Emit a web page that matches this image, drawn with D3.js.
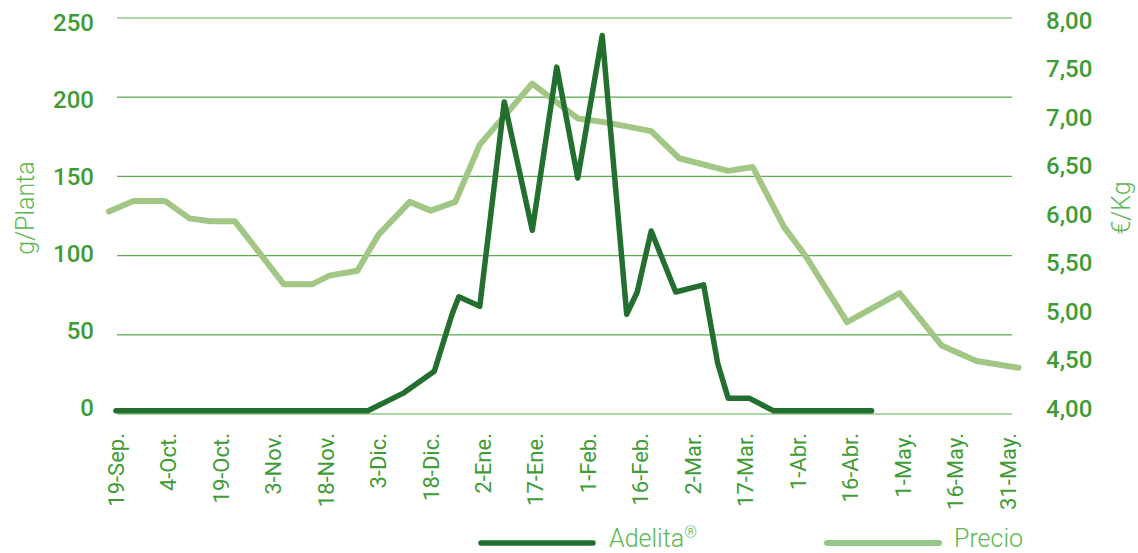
<!DOCTYPE html>
<html><head><meta charset="utf-8">
<script src="https://cdn.jsdelivr.net/npm/d3@7/dist/d3.min.js"></script>
<style>
body{margin:0;background:#fff}
svg{display:block}
text{font-family:Roboto,"Noto Sans",sans-serif}
</style>
</head><body>
<svg id="chart" width="1138" height="553"></svg>
<script>
// ---- data ----
const tickDates = ["2019-09-19","2019-10-04","2019-10-19","2019-11-03","2019-11-18","2019-12-03","2019-12-18","2020-01-02","2020-01-17","2020-02-01","2020-02-16","2020-03-02","2020-03-17","2020-04-01","2020-04-16","2020-05-01","2020-05-16","2020-05-31"];
const tickLabels = ["19-Sep.","4-Oct.","19-Oct.","3-Nov.","18-Nov.","3-Dic.","18-Dic.","2-Ene.","17-Ene.","1-Feb.","16-Feb.","2-Mar.","17-Mar.","1-Abr.","16-Abr.","1-May.","16-May.","31-May."];
const leftTicks = [0,50,100,150,200,250];
const rightTicks = [4,4.5,5,5.5,6,6.5,7,7.5,8];

const adelitaDates = ["2019-09-19","2019-11-30","2019-12-10","2019-12-19","2019-12-24","2019-12-26","2020-01-01","2020-01-08","2020-01-16","2020-01-23","2020-01-29","2020-02-05","2020-02-12","2020-02-15","2020-02-19","2020-02-26","2020-03-05","2020-03-09","2020-03-12","2020-03-18","2020-03-25","2020-04-22"];
const adelitaValues = [2,2,13,27,62.5,74,68,197,116,219,149,239,63,77,115.5,77,81.5,32,10,10,2,2];

const precioDates = ["2019-09-17","2019-09-24","2019-10-03","2019-10-10","2019-10-16","2019-10-23","2019-11-06","2019-11-14","2019-11-19","2019-11-27","2019-12-03","2019-12-12","2019-12-18","2019-12-25","2020-01-01","2020-01-16","2020-01-29","2020-02-06","2020-02-19","2020-02-27","2020-03-12","2020-03-19","2020-03-28","2020-04-03","2020-04-15","2020-04-30","2020-05-12","2020-05-22","2020-06-03"];
const precioValues = [6.03,6.14,6.14,5.96,5.93,5.93,5.28,5.28,5.37,5.42,5.79,6.13,6.04,6.13,6.72,7.35,6.99,6.95,6.86,6.58,6.45,6.49,5.87,5.58,4.89,5.19,4.65,4.49,4.42];

const seriesNames = ["Adelita","Precio"];

// ---- styles ----
const C = {
  dark:"#236f30", light:"#a2c684", lightLegend:"#92c787",
  grid:"#5aad4c", tick:"#3f9c35", title:"#5cb652"
};

const parse = d3.timeParse("%Y-%m-%d");
const svg = d3.select("#chart");

const plotLeft = 117, plotRight = 1012;
const x = d3.scaleTime().domain([parse("2019-09-19"), parse("2020-05-31")]).range([116,1008]);
const yL = d3.scaleLinear().domain([0,250]).range([414,18]);
const yLText = yL.copy().range([408,22.5]);
const yR = d3.scaleLinear().domain([4,8]).range([408.5,20.5]);

// gridlines
svg.append("g").selectAll("line").data(leftTicks).join("line")
  .attr("x1",plotLeft).attr("x2",plotRight)
  .attr("y1",d=>yL(d)).attr("y2",d=>yL(d))
  .attr("stroke",C.grid).attr("stroke-width",1.2);

// left tick labels
svg.append("g").selectAll("text").data(leftTicks).join("text")
  .attr("x",94).attr("y",d=>yLText(d)).attr("dy","0.35em")
  .attr("text-anchor","end").attr("fill",C.tick)
  .attr("font-size",24).attr("font-weight",500)
  .text(d=>d);

// right tick labels
const fmtR = d=>d3.format(".2f")(d).replace(".",",");
svg.append("g").selectAll("text").data(rightTicks).join("text")
  .attr("x",1046).attr("y",d=>yR(d)).attr("dy","0.35em")
  .attr("text-anchor","start").attr("fill",C.tick)
  .attr("font-size",24).attr("font-weight",500)
  .text(fmtR);

// x tick labels
svg.append("g").selectAll("text").data(tickDates).join("text")
  .attr("transform",d=>`translate(${x(parse(d))},433) rotate(-90)`)
  .attr("dy","0.35em").attr("text-anchor","end")
  .attr("fill",C.tick).attr("font-size",22).attr("font-weight",400)
  .text((d,i)=>tickLabels[i]);

// axis titles
svg.append("text").attr("transform","translate(25,208) rotate(-90)")
  .attr("dy","0.35em").attr("text-anchor","middle")
  .attr("fill",C.title).attr("font-size",25).attr("font-weight",300)
  .text("g/Planta");
svg.append("text").attr("transform","translate(1121,208) rotate(-90)")
  .attr("dy","0.35em").attr("text-anchor","middle")
  .attr("fill",C.title).attr("font-size",25).attr("font-weight",300)
  .text("€/Kg");

// lines
const precio = precioDates.map((d,i)=>({d:parse(d),v:precioValues[i]}));
const adelita = adelitaDates.map((d,i)=>({d:parse(d),v:adelitaValues[i]}));

svg.append("path").datum(precio)
  .attr("d",d3.line().x(p=>x(p.d)).y(p=>yR(p.v)))
  .attr("fill","none").attr("stroke",C.light).attr("stroke-width",6)
  .attr("stroke-linejoin","round").attr("stroke-linecap","round");

svg.append("path").datum(adelita)
  .attr("d",d3.line().x(p=>x(p.d)).y(p=>yL(p.v)))
  .attr("fill","none").attr("stroke",C.dark).attr("stroke-width",5.5)
  .attr("stroke-linejoin","round").attr("stroke-linecap","round");

// legend
const legend = [
  {name:seriesNames[0], color:C.dark, x1:481, x2:593, tx:609, w:5.5, sup:"®"},
  {name:seriesNames[1], color:C.lightLegend, x1:827, x2:939, tx:954, w:6, sup:""}
];
const lg = svg.append("g").selectAll("g").data(legend).join("g");
lg.append("line").attr("x1",d=>d.x1).attr("x2",d=>d.x2).attr("y1",543).attr("y2",543)
  .attr("stroke",d=>d.color).attr("stroke-width",d=>d.w).attr("stroke-linecap","round");
const lt = lg.append("text").attr("x",d=>d.tx).attr("y",547)
  .attr("fill",C.title).attr("font-size",25).attr("font-weight",300)
  .text(d=>d.name);
lt.filter(d=>d.sup).append("tspan").attr("font-size",16).attr("dy",-9).text(d=>d.sup);
</script>
</body></html>
